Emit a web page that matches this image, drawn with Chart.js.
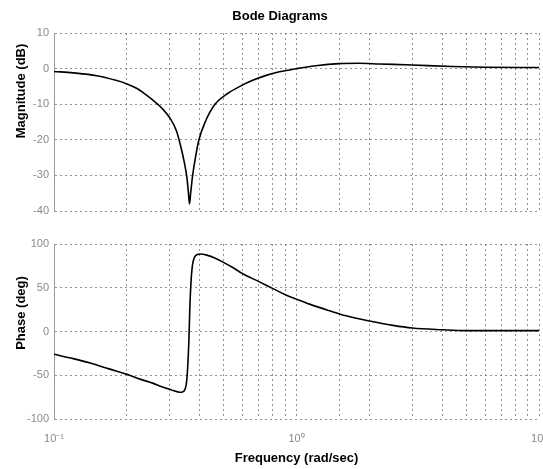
<!DOCTYPE html>
<html><head><meta charset="utf-8">
<script src="https://cdn.jsdelivr.net/npm/chart.js@4/dist/chart.umd.min.js"></script>
<style>
html,body{margin:0;padding:0;background:#fff;}
#wrap{position:relative;width:543px;height:469px;overflow:hidden;}
.box{position:absolute;left:0;width:543px;}
canvas{display:block;}
</style></head><body>
<div id="wrap">
<div class="box" style="top:0;height:228px"><canvas id="c1" width="543" height="228"></canvas></div>
<div class="box" style="top:228px;height:241px"><canvas id="c2" width="543" height="241"></canvas></div>
</div>
<script>
const chartTitle = 'Bode Diagrams';
const magLabel = 'Magnitude (dB)';
const phaseLabel = 'Phase (deg)';
const xLabel = 'Frequency (rad/sec)';

const magFreq = [0.1, 0.12, 0.15, 0.18, 0.2, 0.22, 0.24, 0.26, 0.28, 0.30, 0.32, 0.335, 0.345, 0.353, 0.358, 0.362,
                 0.366, 0.373, 0.383, 0.396, 0.42, 0.461, 0.52, 0.584, 0.66, 0.75, 0.85, 1.0, 1.2, 1.5, 1.8, 2.2, 3.0, 4.4, 6.0, 10];
const magDb   = [-0.8, -1.2, -2.0, -3.3, -4.3, -5.6, -7.4, -9.3, -11.3, -13.8, -17.5, -22.5, -26.5, -30.5, -34.5, -38,
                 -35, -30, -25, -20, -15, -10, -7, -5, -3.3, -1.9, -0.9, 0, 0.8, 1.4, 1.5, 1.3, 1.0, 0.6, 0.4, 0.3];

const phaseFreq = [0.1, 0.12, 0.141, 0.17, 0.2, 0.23, 0.255, 0.28, 0.30, 0.31, 0.33, 0.34, 0.347, 0.352, 0.356, 0.36, 0.363, 0.367, 0.372, 0.38, 0.39, 0.40,
                   0.43, 0.46, 0.5, 0.55, 0.6, 0.7, 0.8, 0.9, 1.0, 1.14, 1.36, 1.6, 2.0, 2.5, 3.0, 4.0, 5.0, 10];
const phaseDeg  = [-26, -31, -36, -43, -49, -55, -59, -63.5, -66, -67.5, -69.5, -69, -66, -58, -40, -10, 25, 55, 75, 85, 88, 88.5,
                   87, 84, 79, 72.5, 66, 57, 49, 42, 37, 31, 24, 18, 12, 7, 4, 2, 1, 1];

const magRange = [-40, 10];
const magStep = 10;
const phaseRange = [-100, 100];
const phaseStep = 50;
const freqRange = [0.1, 10];
const decadeLabels = ['10\u207B\u00B9', '10\u2070', '10\u00B9'];

function decadeLabel(v) {
  const e = Math.log10(v);
  if (Math.abs(e - Math.round(e)) < 1e-9) {
    const idx = Math.round(e) + 1;
    return decadeLabels[idx] !== undefined ? decadeLabels[idx] : '';
  }
  return '';
}

const gridColor = 'rgba(110,110,110,0.75)';
const tickColor = '#8a8a8a';
const tickFont = {family: '"Liberation Sans", Arial, sans-serif', size: 11};

const textPlugin = {
  id: 'txt',
  afterDraw(chart, args, opts) {
    const ctx = chart.ctx;
    ctx.save();
    ctx.font = 'bold 13px "Liberation Sans", Arial, sans-serif';
    ctx.fillStyle = '#000';
    ctx.textAlign = 'center';
    ctx.textBaseline = 'middle';
    if (opts.title) ctx.fillText(opts.title, opts.titleX, opts.titleY);
    if (opts.ylabel) {
      ctx.translate(opts.ylx, opts.yly);
      ctx.rotate(-Math.PI / 2);
      ctx.fillText(opts.ylabel, 0, 0);
    }
    ctx.restore();
  }
};

function xScale(showLabels) {
  return {
    type: 'logarithmic',
    min: freqRange[0], max: freqRange[1],
    afterFit(s) { s.paddingLeft = 0; s.paddingRight = 0; s.height = showLabels ? 50 : 0; },
    grid: {color: gridColor, lineWidth: 1, drawTicks: false},
    border: {display: false, dash: [2, 3]},
    ticks: {
      display: showLabels, autoSkip: false, maxRotation: 0, minRotation: 0,
      color: tickColor, font: tickFont, padding: 13,
      callback: (v) => decadeLabel(v)
    },
    title: showLabels ? {display: true, text: xLabel, color: '#000',
      font: {family: '"Liberation Sans", Arial, sans-serif', size: 13, weight: 'bold'},
      padding: {top: 0, bottom: 3}} : {display: false}
  };
}

function yScale(range, step) {
  return {
    type: 'linear',
    min: range[0], max: range[1],
    afterFit(s) { s.width = 54; s.paddingTop = 0; s.paddingBottom = 0; },
    grid: {color: gridColor, lineWidth: 1, drawTicks: false},
    border: {display: true, color: '#9a9a9a', width: 1, dash: [2, 3]},
    ticks: {stepSize: step, color: tickColor, font: tickFont, padding: 5}
  };
}

function makeData(fx, fy) {
  return fx.map((f, i) => ({x: f, y: fy[i]}));
}

new Chart(document.getElementById('c1'), {
  type: 'line',
  data: {datasets: [{data: makeData(magFreq, magDb), borderColor: '#000', borderWidth: 1.6,
    pointRadius: 0, cubicInterpolationMode: 'monotone', fill: false}]},
  options: {
    responsive: false, animation: false, devicePixelRatio: 1,
    layout: {padding: {left: 0, right: 4, top: 33, bottom: 17}},
    plugins: {legend: {display: false}, tooltip: {enabled: false},
      txt: {title: chartTitle, titleX: 280, titleY: 16, ylabel: magLabel, ylx: 21, yly: 91}},
    scales: {x: xScale(false), y: yScale(magRange, magStep)}
  },
  plugins: [textPlugin]
});

new Chart(document.getElementById('c2'), {
  type: 'line',
  data: {datasets: [{data: makeData(phaseFreq, phaseDeg), borderColor: '#000', borderWidth: 1.6,
    pointRadius: 0, cubicInterpolationMode: 'monotone', fill: false}]},
  options: {
    responsive: false, animation: false, devicePixelRatio: 1,
    layout: {padding: {left: 0, right: 4, top: 16, bottom: 0}},
    plugins: {legend: {display: false}, tooltip: {enabled: false},
      txt: {ylabel: phaseLabel, ylx: 21, yly: 85}},
    scales: {x: xScale(true), y: yScale(phaseRange, phaseStep)}
  },
  plugins: [textPlugin]
});
</script>
</body></html>
